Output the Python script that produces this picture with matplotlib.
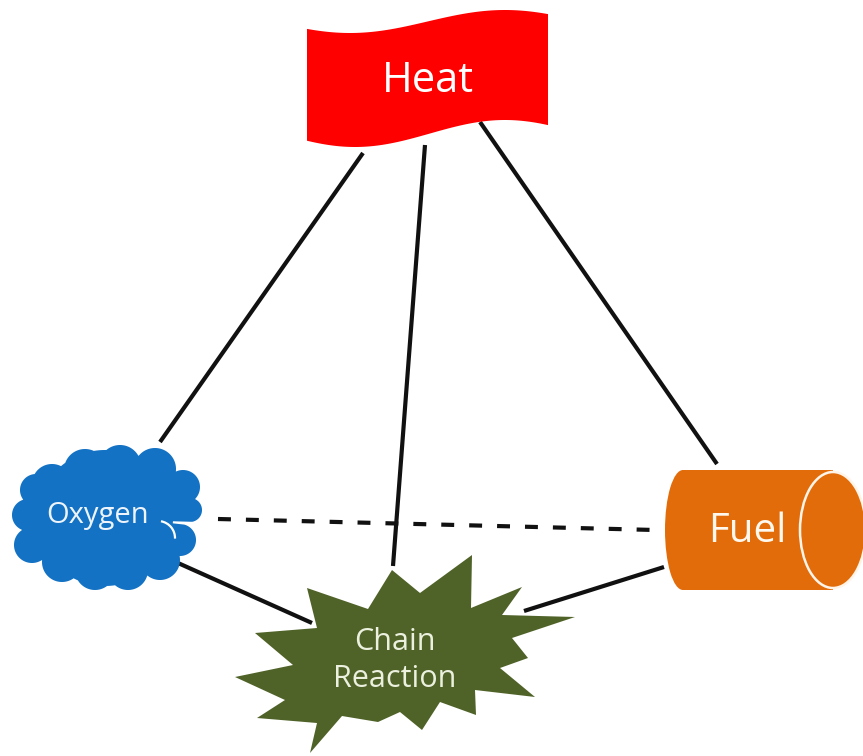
import numpy as np
import matplotlib
matplotlib.use("Agg")
import matplotlib.pyplot as plt
from matplotlib.patches import Polygon, Ellipse, Rectangle, Arc

# ---- content ----
node_labels = ["Heat", "Oxygen", "Fuel", "Chain\nReaction"]
node_colors = ["#FF0000", "#1372C4", "#E36C0A", "#4F6228"]
text_colors = ["#FFFFFF", "#EEF4FB", "#FFF8EE", "#EBF1DE"]

# edges (start point, end point) in pixel coordinates
solid_edges = [((363, 153), (160, 442)),
               ((425, 145), (393, 566)),
               ((480, 122), (717, 464)),
               ((178, 563), (312, 623)),
               ((664, 567), (524, 611))]
dashed_edges = [((218, 519), (655, 530))]

W, H = 863, 756
fig = plt.figure(figsize=(W / 100, H / 100), dpi=100)
ax = fig.add_axes([0, 0, 1, 1])
ax.set_xlim(0, W)
ax.set_ylim(H, 0)
ax.axis("off")
plt.rcParams['font.family'] = ['Open Sans', 'DejaVu Sans']

for (p, q) in dashed_edges:
    ax.plot([p[0], q[0]], [p[1], q[1]], color="#111111", lw=3.0, zorder=1,
            dashes=(3.1, 3.6), solid_capstyle="butt", dash_capstyle="butt")
for (p, q) in solid_edges:
    ax.plot([p[0], q[0]], [p[1], q[1]], color="#111111", lw=3.0, zorder=1.1,
            solid_capstyle="butt")

# ---- Heat flag ----
xs = np.linspace(307, 548, 160)
top = 21.5 + 11.5 * np.cos(2 * np.pi * (xs - 350) / 310)
bot = 133.5 + 13.5 * np.cos(2 * np.pi * (xs - 355) / 300)
flag = np.vstack([np.column_stack([xs, top]), np.column_stack([xs[::-1], bot[::-1]])])
ax.add_patch(Polygon(flag, closed=True, facecolor=node_colors[0], edgecolor="none", zorder=2))
ax.text(428, 92, node_labels[0], color=text_colors[0], fontsize=30, ha="center",
        va="baseline", zorder=3)

# ---- Oxygen cloud: outline of a union of bumps, traced as one polygon ----
O = np.array([105.0, 518.0])
bumps = np.array([(52, 484, 20), (85, 470, 21), (120, 466, 21), (155, 469, 21),
                  (183, 487, 17), (190, 510, 12), (180, 540, 16), (160, 560, 20),
                  (128, 570, 20), (95, 570, 20), (62, 562, 20), (32, 545, 18),
                  (28, 515, 16), (36, 490, 16)], dtype=float)
core = [(105, 518, 68)]
circles = np.vstack([bumps, np.array(core, dtype=float)])
pts = []
for th in np.linspace(0, 2 * np.pi, 1440, endpoint=False):
    d = np.array([np.cos(th), np.sin(th)])
    best = 0.0
    for (cx, cy, r) in circles:
        v = np.array([cx, cy]) - O
        proj = v @ d
        disc = r * r - (v @ v - proj * proj)
        if disc >= 0:
            best = max(best, proj + np.sqrt(disc))
    pts.append(O + best * d)
ax.add_patch(Polygon(np.array(pts), closed=True, facecolor=node_colors[1],
                     edgecolor="none", zorder=2))
ax.add_patch(Arc((158, 538), 34, 34, theta1=280, theta2=362, color="white", lw=1.6, zorder=2.5))
ax.text(98, 523, node_labels[1], color=text_colors[1], fontsize=21, ha="center",
        va="baseline", zorder=3)

# ---- Fuel cylinder ----
ax.add_patch(Ellipse((683, 530), 36, 120, facecolor=node_colors[2], edgecolor="none", zorder=2))
ax.add_patch(Rectangle((683, 470), 150, 120, facecolor=node_colors[2], edgecolor="none", zorder=2))
ax.add_patch(Ellipse((833, 530), 66, 116, facecolor=node_colors[2], edgecolor="#FFF4E8",
                     lw=1.8, zorder=2.2))
ax.text(747, 542, node_labels[2], color=text_colors[2], fontsize=29, ha="center",
        va="baseline", zorder=3)

# ---- Chain reaction burst ----
star = [(307, 588), (368, 609), (392, 570), (420, 593), (472, 555), (471, 608),
        (522, 587), (502, 615), (575, 617), (512, 638), (528, 658), (500, 668),
        (535, 697), (475, 690), (476, 715), (440, 702), (422, 730), (400, 712),
        (378, 722), (342, 716), (310, 753), (317, 723), (257, 718), (285, 700),
        (235, 677), (293, 665), (255, 633), (317, 628)]
ax.add_patch(Polygon(star, closed=True, facecolor=node_colors[3], edgecolor="none", zorder=2))
for line, base in zip(node_labels[3].split("\n"), [650, 687]):
    ax.text(395, base, line, color=text_colors[3], fontsize=22, ha="center",
            va="baseline", zorder=3)

fig.savefig("out.png", dpi=100)
